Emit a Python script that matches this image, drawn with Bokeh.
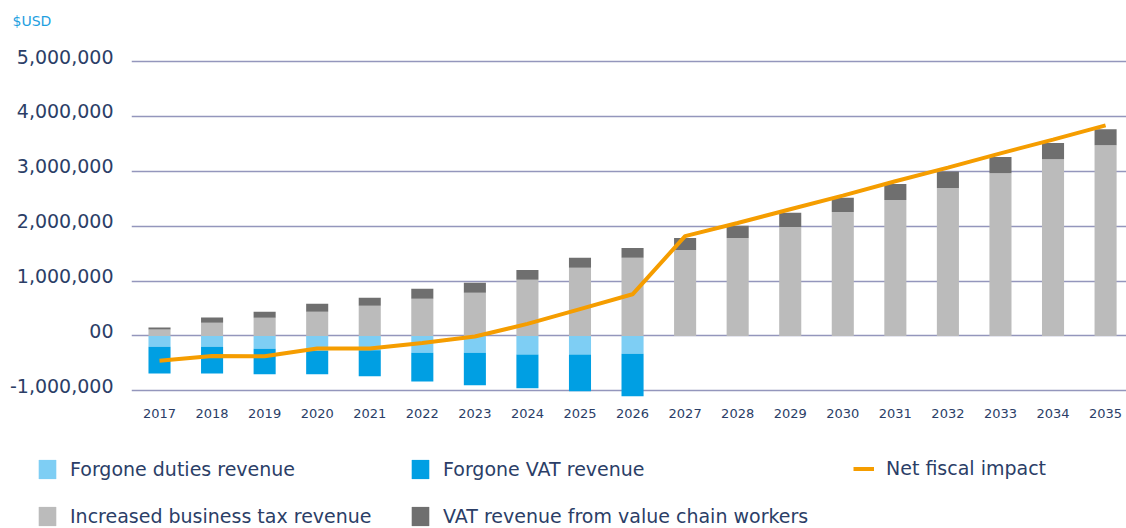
from bokeh.plotting import figure
from bokeh.layouts import column, row
from bokeh.models import (Range1d, FixedTicker, NumeralTickFormatter, Legend,
                          LegendItem, ColumnDataSource)
from bokeh.embed import file_html
from bokeh.resources import INLINE

# ---- data (USD) ----
years = list(range(2017, 2036))
forgone_duties = [-195000, -195000, -231000, -270000, -260000, -304000, -304000,
                  -340000, -340000, -322000, 0, 0, 0, 0, 0, 0, 0, 0, 0]
forgone_vat = [-491000, -491000, -467000, -428000, -474000, -527000, -594000,
               -613000, -667000, -778000, 0, 0, 0, 0, 0, 0, 0, 0, 0]
business_tax = [120000, 242000, 333000, 442000, 551000, 678000, 787000, 1024000,
                1242000, 1424000, 1569000, 1787000, 1987000, 2260000, 2478000,
                2696000, 2969000, 3224000, 3478000]
vat_workers = [36000, 96000, 109000, 145000, 145000, 182000, 182000, 181000,
               182000, 181000, 218000, 224000, 260000, 260000, 291000, 304000,
               296000, 296000, 291000]
net_fiscal = [-450000, -364000, -370000, -230000, -230000, -130000, -10000,
              220000, 490000, 760000, 1820000, 2060000, 2310000, 2560000,
              2820000, 3070000, 3330000, 3580000, 3840000]
y_ticks = [-1000000, 0, 1000000, 2000000, 3000000, 4000000, 5000000]
y_tick_labels = ["-1,000,000", "00", "1,000,000", "2,000,000", "3,000,000",
                 "4,000,000", "5,000,000"]
legend_labels = ["Forgone duties revenue", "Forgone VAT revenue", "Net fiscal impact",
                 "Increased business tax revenue", "VAT revenue from value chain workers"]

NAVY = "#2B3E67"
C_DUTY = "#7ECEF4"
C_VAT = "#009FE3"
C_BIZ = "#BBBBBB"
C_WORK = "#6F6F6F"
C_NET = "#F59D00"
FONT = "DejaVu Sans"
LABEL_LIFT = 95000  # tick labels sit slightly above their grid lines

src = ColumnDataSource(dict(year=years, duties=forgone_duties, vat=forgone_vat,
                            biz=business_tax, work=vat_workers, net=net_fiscal))

# ---------------- main chart ----------------
p = figure(width=1126, height=440, output_backend="svg", toolbar_location=None,
           x_range=Range1d(2016.467, 2035.398), y_range=Range1d(-1140000, 5423600),
           min_border_left=131, min_border_right=0, min_border_top=37,
           min_border_bottom=42)
p.outline_line_color = None

p.title.text = "$USD"
p.title.align = "left"
p.title.offset = -119
p.title.text_font = FONT
p.title.text_font_size = "14px"
p.title.text_font_style = "normal"
p.title.text_color = "#1EA0DF"
p.title.standoff = 20

neg = p.vbar_stack(["duties", "vat"], x="year", width=0.42,
                   fill_color=[C_DUTY, C_VAT], line_color=None, source=src)
pos = p.vbar_stack(["biz", "work"], x="year", width=0.42,
                   fill_color=[C_BIZ, C_WORK], line_color=None, source=src)
ln = p.line("year", "net", source=src, line_width=4, line_color=C_NET)

p.xgrid.visible = False
p.ygrid.ticker = FixedTicker(ticks=y_ticks)
p.ygrid.grid_line_color = "#9496BC"
p.ygrid.grid_line_width = 1.6

for ax in (p.xaxis[0], p.yaxis[0]):
    ax.axis_line_color = None
    ax.major_tick_line_color = None
    ax.minor_tick_line_color = None
    ax.major_tick_out = 0
    ax.major_tick_in = 0
    ax.major_label_text_color = NAVY
    ax.major_label_text_font = FONT

label_pos = [t + LABEL_LIFT for t in y_ticks]
p.yaxis.ticker = FixedTicker(ticks=label_pos)
p.yaxis.major_label_overrides = dict(zip(label_pos, y_tick_labels))
p.yaxis.major_label_text_font_size = "19px"
p.yaxis.major_label_standoff = 18

p.xaxis.ticker = FixedTicker(ticks=years)
p.xaxis.formatter = NumeralTickFormatter(format="0")
p.xaxis.major_label_text_font_size = "13px"
p.xaxis.major_label_standoff = 10

# ---------------- legend strip ----------------
# swatch renderers share the chart data but lie outside this strip's ranges
lg = figure(width=1126, height=88, output_backend="svg", toolbar_location=None,
            x_axis_type=None, y_axis_type=None, x_range=Range1d(0, 1),
            y_range=Range1d(0, 1), min_border=0)
lg.outline_line_color = None
lg.grid.visible = False
r_duty = lg.vbar(x="year", top="duties", width=0.42, fill_color=C_DUTY, line_color=None, source=src)
r_vat = lg.vbar(x="year", top="vat", width=0.42, fill_color=C_VAT, line_color=None, source=src)
r_net = lg.line(x="year", y="net", line_width=4, line_color=C_NET, source=src)
r_biz = lg.vbar(x="year", top="biz", width=0.42, fill_color=C_BIZ, line_color=None, source=src)
r_work = lg.vbar(x="year", top="work", width=0.42, fill_color=C_WORK, line_color=None, source=src)


def style(leg):
    leg.padding = 0
    leg.margin = 0
    leg.border_line_color = None
    leg.background_fill_alpha = 0
    leg.label_text_font = FONT
    leg.label_text_font_size = "19px"
    leg.label_text_color = NAVY


leg_a = Legend(items=[LegendItem(label=legend_labels[0], renderers=[r_duty]),
                      LegendItem(label=legend_labels[1], renderers=[r_vat]),
                      LegendItem(label=legend_labels[3], renderers=[r_biz]),
                      LegendItem(label=legend_labels[4], renderers=[r_work])],
               location=(36, 0), orientation="horizontal", ncols=2)
style(leg_a)
leg_a.glyph_width = 22
leg_a.glyph_height = 24
leg_a.label_height = 24
leg_a.label_standoff = 12
leg_a.label_width = 316
leg_a.spacing = 23

leg_b = Legend(items=[LegendItem(label=legend_labels[2], renderers=[r_net])],
               location=(853, 49), orientation="horizontal")
style(leg_b)
leg_b.glyph_width = 21
leg_b.glyph_height = 19
leg_b.label_height = 19
leg_b.label_standoff = 12

lg.add_layout(leg_a)
lg.add_layout(leg_b)

open("out.html", "w").write(file_html(column(p, row(lg)), INLINE))
